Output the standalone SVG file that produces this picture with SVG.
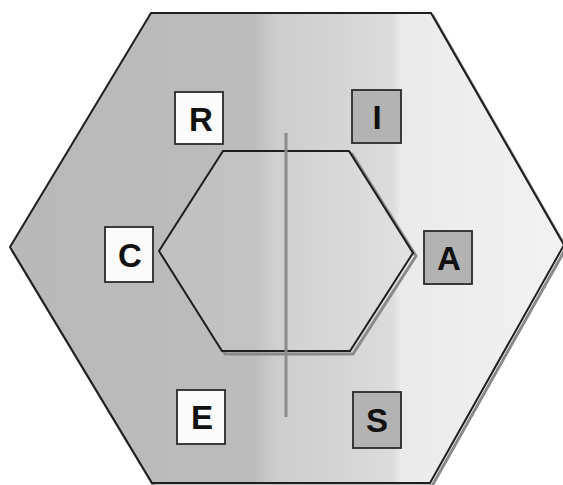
<svg xmlns="http://www.w3.org/2000/svg" width="563" height="485" viewBox="0 0 563 485">
  <defs>
    <linearGradient id="gOuter" gradientUnits="userSpaceOnUse" x1="10" y1="0" x2="564" y2="0">
      <stop offset="0" stop-color="#b8b8b8"/>
      <stop offset="0.44" stop-color="#bcbcbc"/>
      <stop offset="0.48" stop-color="#cdcdcd"/>
      <stop offset="0.6" stop-color="#d5d5d5"/>
      <stop offset="0.69" stop-color="#dcdcdc"/>
      <stop offset="0.705" stop-color="#eaeaea"/>
      <stop offset="1" stop-color="#f2f2f2"/>
    </linearGradient>
    <linearGradient id="gInner" gradientUnits="userSpaceOnUse" x1="10" y1="0" x2="564" y2="0">
      <stop offset="0" stop-color="#bebebe"/>
      <stop offset="0.44" stop-color="#c2c2c2"/>
      <stop offset="0.48" stop-color="#d0d0d0"/>
      <stop offset="0.6" stop-color="#d8d8d8"/>
      <stop offset="0.69" stop-color="#dfdfdf"/>
      <stop offset="1" stop-color="#eaeaea"/>
    </linearGradient>
  </defs>
  <style>
    .hex { stroke: #1e1e1e; stroke-width: 2; stroke-linejoin: miter; }
    .shadow { fill: none; stroke: #8a8a8a; stroke-width: 3; }
    .box { stroke: #2a2a2a; stroke-width: 1.8; }
    .light { fill: #fbfbfb; }
    .dark { fill: #b3b3b3; }
    .lbl { font-family: "Liberation Sans", Arial, sans-serif; font-weight: bold; font-size: 33px; fill: #111; text-anchor: middle; }
    .axis { stroke: #8c8c8c; stroke-width: 3; }
  </style>
  <rect x="0" y="0" width="563" height="485" fill="#ffffff"/>

  <g id="outer-hexagon">
    <polygon class="shadow" points="153,16 433,16 566,248 432,486 154,486 12,250"/>
    <polygon class="hex" fill="url(#gOuter)" points="151,13 431,13 564,245 430,483 152,483 10,247"/>
  </g>

  <g id="inner-hexagon">
    <polygon class="shadow" points="226,154 352,154 416,256 353,354 225,354 162,254"/>
    <polygon class="hex" fill="url(#gInner)" points="223,151 349,151 413,253 350,351 222,351 159,251"/>
  </g>

  <g id="connectors">
    <line class="axis" x1="286" y1="133" x2="286" y2="417"/>
  </g>

  <g id="node-R">
    <rect class="box light" x="175" y="92" width="48" height="52"/>
    <text class="lbl" x="201" y="131">R</text>
  </g>
  <g id="node-I">
    <rect class="box dark" x="352" y="90" width="49" height="53"/>
    <text class="lbl" x="377" y="129">I</text>
  </g>
  <g id="node-C">
    <rect class="box light" x="105" y="227" width="48" height="55"/>
    <text class="lbl" x="130" y="267">C</text>
  </g>
  <g id="node-A">
    <rect class="box dark" x="424" y="231" width="48" height="53"/>
    <text class="lbl" x="449" y="270">A</text>
  </g>
  <g id="node-E">
    <rect class="box light" x="177" y="390" width="48" height="54"/>
    <text class="lbl" x="202" y="429">E</text>
  </g>
  <g id="node-S">
    <rect class="box dark" x="353" y="392" width="48" height="56"/>
    <text class="lbl" x="377" y="432">S</text>
  </g>
</svg>
